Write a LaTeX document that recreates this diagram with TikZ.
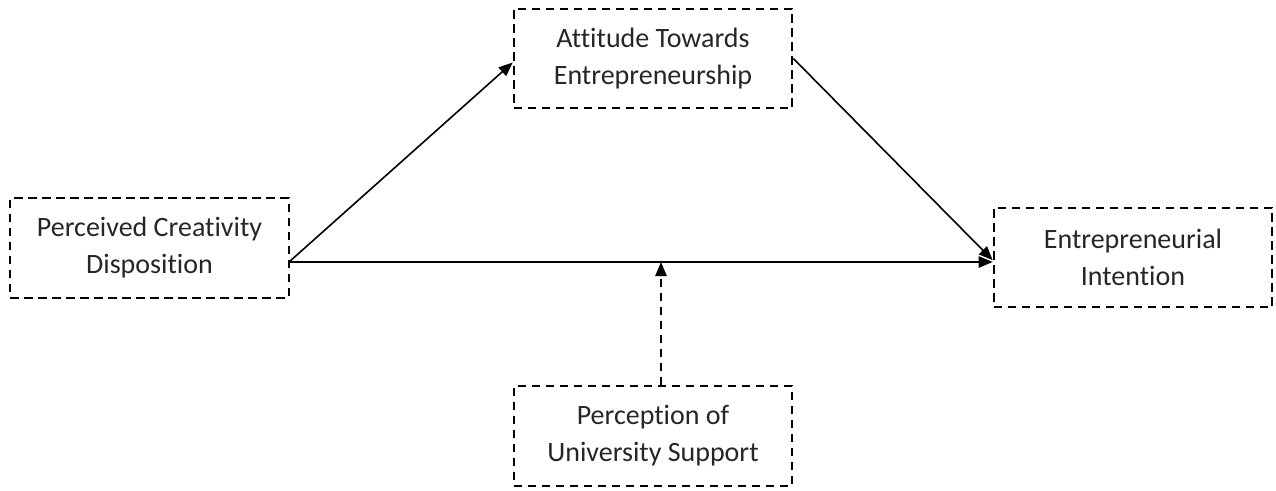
\documentclass[tikz,border=0pt]{standalone}
\usepackage{fontspec}
\setmainfont[Ligatures=NoCommon]{Carlito}
\usetikzlibrary{arrows.meta}

\begin{document}
\begin{tikzpicture}[
        x=0.75pt,y=-0.75pt,
        varbox/.style={draw,line width=1.5pt,dash pattern=on 6.5pt off 4pt,
            minimum width=209pt,minimum height=74.5pt,inner sep=0pt,
            align=center,font=\fontsize{21pt}{27.75pt}\selectfont,text=black!85},
        path/.style={line width=1.2pt,-{Triangle[length=10.5pt,width=8.5pt]}}
    ]
    \useasboundingbox (0,0) rectangle (1276,490);
    % variables
    \node[varbox] (pcd) at (149.5,248) {Perceived Creativity\\Disposition};
    \node[varbox] (ate) at (653,58.5) {Attitude Towards\\Entrepreneurship};
    \node[varbox] (ei) at (1133,257.5) {Entrepreneurial\\Intention};
    \node[varbox] (pus) at (653,436) {Perception of\\University Support};
    \coordinate (src) at (289,262);
    % paths
    \draw[path] (src) -- ([yshift=-3pt]ate.west);
    \draw[path] (ate.east) -- ([yshift=-2pt]ei.west);
    \draw[path] (src) -- (src -| ei.west);
    \draw[path,dash pattern=on 6.5pt off 4pt] ([xshift=6pt]pus.north) -- ([xshift=6pt]pus.north |- src);
\end{tikzpicture}
\end{document}
